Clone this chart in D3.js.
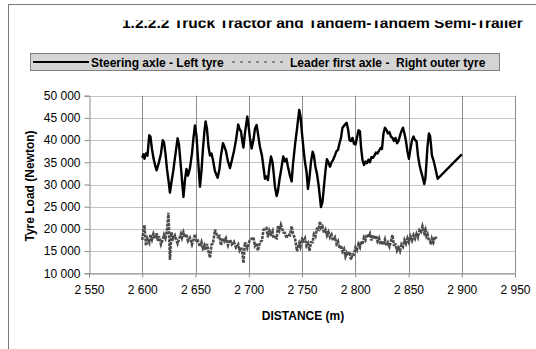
<!DOCTYPE html>
<html><head><meta charset="utf-8">
<script src="https://cdn.jsdelivr.net/npm/d3@7"></script>
<style>
html,body{margin:0;padding:0;background:#fff;}
svg{display:block;font-family:"Liberation Sans",Arial,Helvetica,sans-serif;}
</style></head>
<body>
<svg id="chart" width="536" height="349"></svg>
<script>
const titleText = "1.2.2.2 Truck Tractor and Tandem-Tandem Semi-Trailer";
const seriesNames = ["Steering axle - Left tyre", "Leader first axle -  Right outer tyre"];
const xTicks = [2550, 2600, 2650, 2700, 2750, 2800, 2850, 2900, 2950];
const yTicks = [10000, 15000, 20000, 25000, 30000, 35000, 40000, 45000, 50000];
const xTitle = "DISTANCE (m)";
const yTitle = "Tyre Load (Newton)";

const distance = [2600.0, 2601.1, 2602.1, 2603.5, 2604.9, 2606.6, 2607.7, 2609.1, 2610.5, 2612.4,
2613.5, 2614.7, 2615.7, 2617.6, 2619.2, 2620.4, 2621.8, 2623.2, 2624.6, 2626.0,
2627.4, 2629.1, 2630.7, 2633.2, 2634.5, 2636.3, 2637.3, 2638.7, 2640.1, 2641.5,
2642.9, 2644.8, 2646.7, 2648.1, 2649.5, 2650.9, 2652.3, 2654.2, 2655.6, 2657.0,
2658.4, 2659.5, 2660.8, 2662.2, 2663.6, 2665.0, 2666.4, 2668.3, 2670.8, 2672.5,
2673.9, 2675.8, 2677.2, 2678.6, 2680.5, 2682.4, 2684.2, 2686.1, 2688.0, 2690.1,
2691.3, 2692.7, 2694.1, 2695.0, 2696.4, 2698.6, 2699.7, 2701.1, 2702.7, 2704.4,
2705.8, 2707.4, 2708.6, 2710.5, 2712.4, 2713.8, 2715.2, 2716.6, 2718.0, 2719.4,
2720.9, 2722.3, 2723.2, 2724.6, 2726.2, 2727.4, 2728.8, 2730.2, 2732.4, 2734.0,
2735.4, 2736.8, 2738.7, 2740.3, 2741.5, 2743.4, 2745.3, 2747.4, 2748.5, 2750.0,
2751.4, 2752.8, 2754.2, 2755.6, 2757.0, 2758.4, 2760.0, 2761.2, 2762.6, 2764.0,
2765.5, 2766.9, 2767.8, 2769.2, 2770.6, 2772.0, 2773.4, 2774.8, 2776.3, 2777.7,
2779.1, 2781.0, 2782.4, 2783.8, 2785.2, 2786.6, 2788.0, 2789.4, 2790.8, 2791.9,
2793.2, 2794.6, 2796.0, 2797.4, 2798.8, 2800.2, 2801.6, 2803.0, 2804.4, 2805.4,
2806.8, 2808.2, 2809.6, 2811.0, 2812.4, 2813.8, 2815.2, 2816.6, 2818.0, 2819.4,
2820.9, 2822.3, 2823.7, 2825.1, 2826.5, 2827.9, 2829.3, 2830.7, 2832.1, 2833.5,
2834.9, 2836.3, 2837.8, 2839.2, 2840.6, 2842.0, 2843.4, 2844.8, 2846.2, 2847.6,
2849.0, 2850.4, 2851.8, 2853.3, 2854.7, 2856.1, 2857.5, 2858.9, 2860.3, 2861.7,
2863.1, 2864.8, 2865.9, 2866.9, 2867.8, 2869.2, 2870.2, 2871.1, 2872.0, 2873.4,
2874.9, 2876.3, 2877.4, 2900.0];

const steeringLeft = [36000, 36800, 35800, 37000, 36500, 41100, 40800, 38000, 36000, 34000,
33200, 34200, 35000, 37000, 40000, 39500, 37000, 33500, 31000, 28200,
30500, 33000, 36000, 40400, 39000, 34000, 31000, 27200, 31000, 33500,
32000, 33700, 37000, 40500, 43300, 41000, 36000, 29500, 33000, 38000,
42000, 44200, 42500, 38500, 36500, 37000, 35500, 33000, 31500, 33500,
36500, 39300, 38500, 37500, 35200, 33700, 35500, 37500, 40000, 43500,
42500, 42000, 39500, 38300, 41500, 45300, 43500, 40500, 38100, 40000,
42500, 43400, 41500, 38500, 36500, 34000, 31300, 31800, 31000, 34000,
36300, 35000, 33000, 29500, 27400, 28500, 31000, 33000, 36300, 35200,
35800, 34000, 32000, 30700, 34500, 38800, 42500, 46800, 45500, 41500,
38000, 35000, 33000, 29000, 31500, 35000, 37400, 36500, 34000, 32500,
30000, 27000, 24900, 26000, 29500, 33000, 35700, 35000, 34000, 35000,
35500, 36600, 37500, 37800, 39300, 40500, 42800, 43200, 43600, 43900,
42500, 40000, 39800, 40500, 39200, 39000, 40500, 42200, 42000, 38500,
35500, 34400, 35200, 34800, 35600, 35000, 36200, 36000, 36500, 37200,
37000, 37600, 38200, 38000, 41500, 42800, 42300, 41500, 41800, 40800,
40500, 39800, 40500, 39300, 39800, 41000, 42000, 42800, 41500, 39800,
37500, 35800, 38000, 40000, 40800, 40000, 39800, 36500, 34500, 33000,
31800, 30100, 31500, 35000, 38500, 41500, 41000, 39000, 36500, 35500,
34000, 32500, 31300, 36800];

const leaderRightOuter = [17500, 19500, 20800, 16200, 17800, 16900, 18700, 17600, 18900, 17800,
19000, 17300, 18400, 16500, 17600, 18700, 17900, 19600, 23600, 13000,
19200, 17800, 18500, 16700, 17700, 18900, 18000, 19200, 18100, 18800,
17300, 18000, 16500, 17600, 18800, 17000, 17300, 16000, 17000, 15600,
16300, 15200, 16600, 14900, 13500, 16500, 16700, 19800, 18200, 18400,
16300, 17900, 17200, 17900, 16300, 17600, 16500, 17100, 15800, 16500,
15200, 15900, 14400, 12300, 17000, 15700, 16600, 17500, 17800, 18100,
16200, 16800, 15100, 17000, 17400, 19800, 20000, 20200, 18100, 19600,
18800, 19500, 18000, 18100, 17900, 20600, 19700, 20900, 19200, 19100,
17900, 18800, 18600, 20600, 18900, 17900, 15000, 16800, 16000, 17700,
17300, 17900, 16200, 16800, 15100, 17000, 17000, 18800, 18300, 20000,
19800, 21700, 20200, 20600, 19100, 19800, 18500, 19300, 18100, 18700,
17400, 18100, 16600, 17200, 15600, 16300, 14900, 15500, 13800, 14600,
14000, 14800, 13100, 14300, 14200, 15800, 15200, 16600, 15900, 17200,
16500, 18100, 17500, 18800, 18100, 18900, 17400, 18600, 17700, 18500,
17200, 17900, 16500, 17300, 16400, 17600, 16200, 16900, 16000, 17200,
18600, 16400, 16500, 15100, 15800, 15000, 16500, 16000, 17500, 16700,
17900, 17000, 18300, 17400, 18600, 17800, 18900, 18100, 19700, 19300,
20600, 19100, 19800, 18400, 18800, 17300, 17200, 16500, 17800, 17000,
18300, 17800, null, null];

const svg = d3.select("#chart");
svg.append("rect").attr("width", 536).attr("height", 349).attr("fill", "#fff");

// outer chart frame
svg.append("rect").attr("x", 8.5).attr("y", 4.5).attr("width", 600).attr("height", 400)
  .attr("fill", "none").attr("stroke", "#7a7a7a").attr("stroke-width", 1);

// title (top part hidden, as in the reference)
const defs = svg.append("defs");
defs.append("clipPath").attr("id", "tclip").append("rect")
  .attr("x", 0).attr("y", 20.5).attr("width", 536).attr("height", 20);
svg.append("g").attr("clip-path", "url(#tclip)").append("text")
  .attr("x", 122).attr("y", 27.5).attr("font-size", 15.5).attr("font-weight", "bold")
  .attr("fill", "#000").text(titleText);

// scales
const x = d3.scaleLinear().domain([xTicks[0], xTicks[xTicks.length - 1]]).range([89, 515]);
const y = d3.scaleLinear().domain([yTicks[0], yTicks[yTicks.length - 1]]).range([273.3, 95.7]);
const fmt = d3.formatLocale({decimal: ".", thousands: " ", grouping: [3], currency: ["", ""]}).format(",");

// gridlines
svg.append("g").selectAll("line").data(yTicks).join("line")
  .attr("x1", 89).attr("x2", 515)
  .attr("y1", d => Math.round(y(d)) + 0.5).attr("y2", d => Math.round(y(d)) + 0.5)
  .attr("stroke", "#c4c4c4").attr("stroke-width", 1);
svg.append("g").selectAll("line").data(xTicks.slice(1)).join("line")
  .attr("y1", 95.7).attr("y2", 273.3)
  .attr("x1", d => Math.round(x(d)) + 0.5).attr("x2", d => Math.round(x(d)) + 0.5)
  .attr("stroke", "#8c8c8c").attr("stroke-width", 1);

// axes
const xAxis = svg.append("g").attr("transform", `translate(0,${Math.round(y(yTicks[0])) + 0.5})`)
  .call(d3.axisBottom(x).tickValues(xTicks).tickFormat(fmt).tickSize(4).tickPadding(8));
const yAxis = svg.append("g").attr("transform", `translate(${Math.round(x(xTicks[0])) + 0.5},0)`)
  .call(d3.axisLeft(y).tickValues(yTicks).tickFormat(fmt).tickSize(5).tickPadding(4));
[xAxis, yAxis].forEach(g => {
  g.select(".domain").attr("stroke", "#8c8c8c");
  g.selectAll(".tick line").attr("stroke", "#8c8c8c");
  g.selectAll(".tick text").attr("font-size", 12).attr("fill", "#000")
    .attr("font-family", "'Liberation Sans',Arial,sans-serif");
});

// axis titles
svg.append("text").attr("x", 303).attr("y", 320).attr("text-anchor", "middle")
  .attr("font-size", 12).attr("font-weight", "bold").text(xTitle);
svg.append("text").attr("transform", "translate(34,186) rotate(-90)").attr("text-anchor", "middle")
  .attr("font-size", 12).attr("font-weight", "bold").text(yTitle);

// series
const rows = distance.map((d, i) => ({d, a: steeringLeft[i], b: leaderRightOuter[i]}));
const lineA = d3.line().x(r => x(r.d)).y(r => y(r.a));
const lineB = d3.line().defined(r => r.b != null).x(r => x(r.d)).y(r => y(r.b));
svg.append("path").attr("d", lineB(rows)).attr("fill", "none")
  .attr("stroke", "#4d4d4d").attr("stroke-width", 2.6).attr("stroke-dasharray", "3,1");
svg.append("path").attr("d", lineA(rows)).attr("fill", "none")
  .attr("stroke", "#000").attr("stroke-width", 2.4).attr("stroke-linejoin", "round");

// legend
const lg = svg.append("g");
lg.append("rect").attr("x", 30.5).attr("y", 53.5).attr("width", 469).attr("height", 17)
  .attr("fill", "#d4d4d4").attr("stroke", "#808080");
lg.append("line").attr("x1", 33).attr("x2", 89).attr("y1", 62).attr("y2", 62)
  .attr("stroke", "#000").attr("stroke-width", 2);
lg.append("text").attr("x", 91).attr("y", 66.5).attr("font-size", 12).attr("font-weight", "bold")
  .text(seriesNames[0]);
lg.append("line").attr("x1", 232).attr("x2", 288).attr("y1", 62).attr("y2", 62)
  .attr("stroke", "#888").attr("stroke-width", 2).attr("stroke-dasharray", "3,5");
lg.append("text").attr("x", 290).attr("y", 66.5).attr("font-size", 12).attr("font-weight", "bold")
  .attr("xml:space", "preserve").style("white-space", "pre")
  .text(seriesNames[1]);
</script>
</body></html>
